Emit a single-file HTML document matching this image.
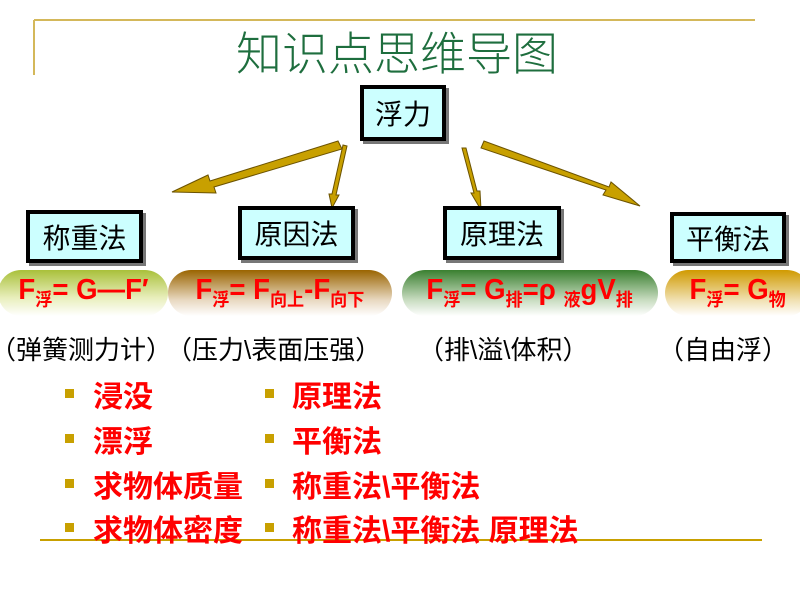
<!DOCTYPE html>
<html><head><meta charset="utf-8"><style>
body{margin:0;width:800px;height:600px;position:relative;background:#fff;overflow:hidden;font-family:"Liberation Sans","Noto Sans CJK SC",sans-serif}
.a{position:absolute;white-space:nowrap}
.box{position:absolute;background:#ccffff;border:4px solid #000;box-shadow:3px 3px 0 #777;display:flex;align-items:center;justify-content:center;font-size:28px;color:#000;box-sizing:border-box}
.pill{position:absolute;top:270px;height:46px;border-radius:23px;box-sizing:border-box;display:flex;align-items:center;justify-content:center;color:#f00;font-weight:bold;font-size:29px;font-family:"Liberation Sans","Noto Sans CJK SC",sans-serif}
.pill span{display:inline-block;transform:scaleX(0.95)}
.pill sub{font-size:18px;vertical-align:-7px}
.red{color:#f00;font-weight:bold;font-size:30px}
.b{position:absolute;width:9px;height:9px;background:#c8a000}
</style></head><body>
<svg class="a" style="left:0;top:0" width="800" height="600">
<line x1="34" y1="20" x2="755" y2="20" stroke="#d4b85a" stroke-width="2"/>
<line x1="34" y1="20" x2="34" y2="75" stroke="#d4b85a" stroke-width="2"/>
<line x1="40" y1="540" x2="762" y2="540" stroke="#c8a000" stroke-width="2"/>
<g fill="#c8a000" stroke="#6b5200" stroke-width="1">
<polygon points="338,141 342,149 214,187 216,193 172,192 208,175 210,181"/>
<polygon points="343,145 347,146 336,195 339,195 332,208 329,194 332,194"/>
<polygon points="462,148 466,148 477,191 480,191 481,210 471,193 474,193"/>
<polygon points="484,141 481,148 606,190 603,195 640,206 611,182 609,187"/>
</g>
</svg>
<div class="a" style="left:236px;top:18px;font-size:46px;color:#1e6e3e;font-family:'Noto Sans CJK SC',sans-serif;font-weight:300">知识点思维导图</div>
<div class="box" style="left:360px;top:85px;width:86px;height:56px">浮力</div>
<div class="box" style="left:26px;top:210px;width:117px;height:53px">称重法</div>
<div class="box" style="left:238px;top:206px;width:117px;height:54px">原因法</div>
<div class="box" style="left:443px;top:206px;width:118px;height:54px">原理法</div>
<div class="box" style="left:670px;top:212px;width:116px;height:51px">平衡法</div>
<div class="pill" style="left:-2px;width:170px;background:linear-gradient(#a9c03a,#e8eebb 60%,#fff)"><span>F<sub>浮</sub>= G—F′</span></div>
<div class="pill" style="left:168px;width:224px;background:linear-gradient(#9a6400,#e8d8c0 65%,#fff)"><span>F<sub>浮</sub>= F<sub>向上</sub>-F<sub>向下</sub></span></div>
<div class="pill" style="left:402px;width:256px;background:linear-gradient(#3a8030,#c8dcc0 65%,#fff)"><span>F<sub>浮</sub>= G<sub>排</sub>=ρ <sub>液</sub>gV<sub>排</sub></span></div>
<div class="pill" style="left:665px;width:145px;background:linear-gradient(#d09a00,#f0e0b0 65%,#fff)"><span>F<sub>浮</sub>= G<sub>物</sub></span></div>
<div class="a" style="left:-10px;top:330px;font-size:26px">（弹簧测力计）</div>
<div class="a" style="left:166px;top:330px;font-size:26px">（压力\表面压强）</div>
<div class="a" style="left:418px;top:330px;font-size:26px">（排\溢\体积）</div>
<div class="a" style="left:658px;top:330px;font-size:26px">（自由浮）</div>
<div class="b" style="left:65px;top:389px"></div><div class="b" style="left:265px;top:389px"></div>
<div class="b" style="left:65px;top:434px"></div><div class="b" style="left:265px;top:434px"></div>
<div class="b" style="left:65px;top:479px"></div><div class="b" style="left:265px;top:479px"></div>
<div class="b" style="left:65px;top:523px"></div><div class="b" style="left:265px;top:523px"></div>
<div class="a red" style="left:93px;top:372px">浸没</div>
<div class="a red" style="left:93px;top:417px">漂浮</div>
<div class="a red" style="left:93px;top:462px">求物体质量</div>
<div class="a red" style="left:93px;top:506px">求物体密度</div>
<div class="a red" style="left:292px;top:372px">原理法</div>
<div class="a red" style="left:292px;top:417px">平衡法</div>
<div class="a red" style="left:292px;top:462px">称重法\平衡法</div>
<div class="a red" style="left:292px;top:506px">称重法\平衡法 原理法</div>
</body></html>
